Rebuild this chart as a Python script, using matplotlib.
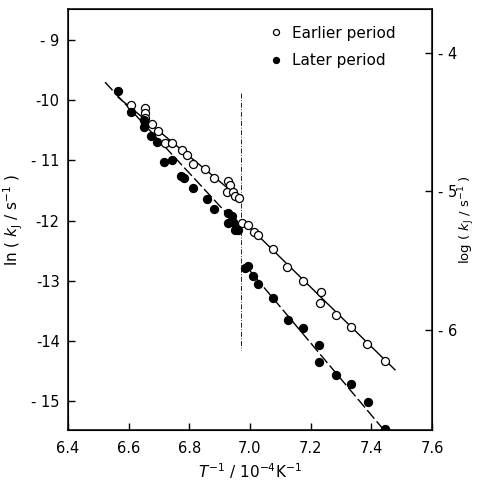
import numpy as np
import matplotlib
matplotlib.use("Agg")
import matplotlib.pyplot as plt

# Earlier period (open circles)
early_x = [6.608, 6.654, 6.654, 6.654, 6.654, 6.677, 6.697, 6.720, 6.743, 6.776,
           6.792, 6.812, 6.852, 6.881, 6.928, 6.934, 6.924, 6.944, 6.951, 6.964,
           6.974, 6.993, 7.013, 7.026, 7.076, 7.122, 7.175, 7.234, 7.231, 7.284,
           7.333, 7.386, 7.445]
early_y = [-10.08, -10.13, -10.21, -10.30, -10.38, -10.40, -10.51, -10.71, -10.71, -10.83,
           -10.91, -11.06, -11.14, -11.29, -11.34, -11.41, -11.53, -11.53, -11.59, -11.63,
           -12.04, -12.08, -12.19, -12.24, -12.47, -12.77, -13.01, -13.19, -13.37, -13.57,
           -13.77, -14.05, -14.34]

# Later period (filled circles)
late_x = [6.565, 6.608, 6.651, 6.651, 6.674, 6.693, 6.717, 6.743, 6.773, 6.782,
          6.812, 6.858, 6.881, 6.928, 6.928, 6.944, 6.951, 6.961, 6.941, 6.984,
          6.993, 7.010, 7.026, 7.076, 7.125, 7.175, 7.228, 7.228, 7.284, 7.333,
          7.389, 7.445]
late_y = [-9.85, -10.20, -10.33, -10.45, -10.60, -10.70, -11.03, -10.99, -11.26, -11.29,
          -11.46, -11.64, -11.81, -11.88, -12.04, -12.03, -12.16, -12.16, -11.93, -12.79,
          -12.76, -12.92, -13.06, -13.29, -13.65, -13.79, -14.07, -14.35, -14.57, -14.72,
          -15.02, -15.47]

# Fit line segments (endpoints)
early_fit1_x = [6.565, 6.967]
early_fit1_y = [-9.95, -11.63]
early_fit2_x = [6.974, 7.478]
early_fit2_y = [-11.99, -14.48]
late_fit1_x = [6.522, 6.967]
late_fit1_y = [-9.70, -12.12]
late_fit2_x = [6.984, 7.448]
late_fit2_y = [-12.74, -15.52]

break_x = 6.969
break_y = [-9.88, -14.15]

xticks = [6.4, 6.6, 6.8, 7.0, 7.2, 7.4, 7.6]
xtick_labels = ["6.4", "6.6", "6.8", "7.0", "7.2", "7.4", "7.6"]
yticks = [-9, -10, -11, -12, -13, -14, -15]
ytick_labels = ["- 9", "-10", "- 11", "-12", "-13", "-14", "- 15"]
rticks = [-4, -5, -6]
rtick_labels = ["- 4", "- 5", "- 6"]

fig = plt.figure(figsize=(4.79, 4.80), dpi=100)
ax = fig.add_axes([68/479, 1-430/480, (432-68)/479, (430-9)/480])

lw = 1.0
ax.plot(early_fit1_x, early_fit1_y, color="black", lw=lw)
ax.plot(early_fit2_x, early_fit2_y, color="black", lw=lw)
ax.plot(late_fit1_x, late_fit1_y, color="black", lw=lw, dashes=(8, 2.5))
ax.plot(late_fit2_x, late_fit2_y, color="black", lw=lw, dashes=(8, 2.5))
ax.plot([break_x, break_x], break_y, color="black", lw=0.6, dashes=(6, 2, 1, 2))

ax.plot(early_x, early_y, "o", mfc="white", mec="black", ms=5.8, mew=0.9,
        ls="none", label="Earlier period", zorder=3)
ax.plot(late_x, late_y, "o", mfc="black", mec="black", ms=5.8, mew=0.9,
        ls="none", label="Later period", zorder=3)

ax.set_xlim(6.4, 7.6)
ax.set_ylim(-15.48, -8.485)
ax.set_xticks(xticks)
ax.set_xticklabels(xtick_labels)
ax.set_yticks(yticks)
ax.set_yticklabels(ytick_labels)
ax.tick_params(direction="in", length=5, width=1, labelsize=10.5, pad=6)
ax.tick_params(axis="x", pad=8)
for s in ax.spines.values():
    s.set_linewidth(1.1)

ax2 = ax.twinx()
lo, hi = ax.get_ylim()
ax2.set_ylim(lo/np.log(10), hi/np.log(10))
ax2.set_yticks(rticks)
ax2.set_yticklabels(rtick_labels)
ax2.tick_params(direction="in", length=5, width=1, labelsize=10.5, pad=4)

ax.set_xlabel(r"$T^{-1}$ / 10$^{-4}$K$^{-1}$", fontsize=11, labelpad=4)
ax.set_ylabel(r"ln ( $k_\mathrm{J}$ / s$^{-1}$ )", fontsize=11)
ax.yaxis.set_label_coords(-0.118, 0.5)
ax2.set_ylabel(r"log ( $k_\mathrm{J}$ / s$^{-1}$ )", fontsize=9.5, rotation=90,
               va="center")
ax2.yaxis.set_label_coords(1.094, 0.5)

leg = ax.legend(loc="upper left", frameon=False, fontsize=11, handletextpad=0.5,
                handlelength=1.0, markerscale=0.75, bbox_to_anchor=(0.535, 0.975),
                borderaxespad=0.0, labelspacing=0.8)

fig.savefig("out.png", dpi=100)
